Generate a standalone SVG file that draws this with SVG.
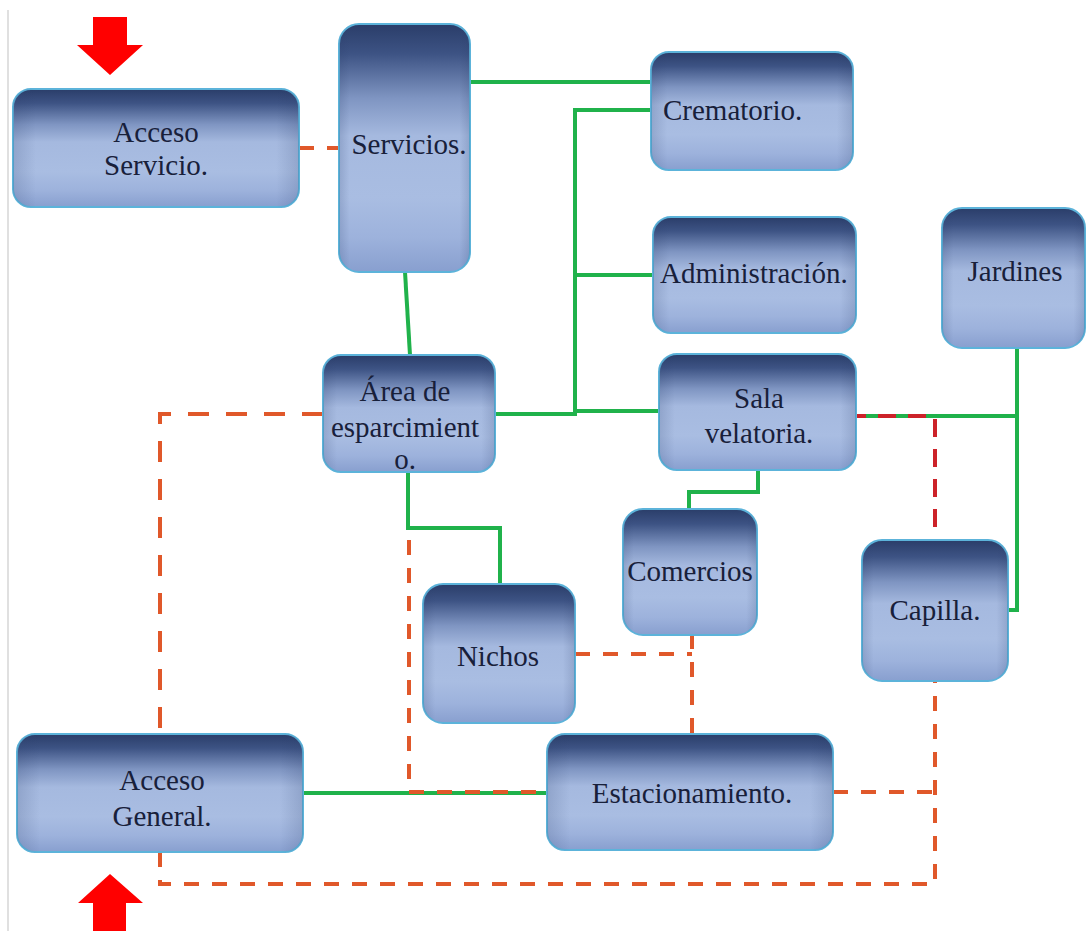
<svg xmlns="http://www.w3.org/2000/svg" width="1086" height="931" viewBox="0 0 1086 931">
<defs>
<linearGradient id="fill" x1="0" y1="0" x2="0" y2="1">
<stop offset="0" stop-color="#2a3d69"/>
<stop offset="0.12" stop-color="#3d5384"/>
<stop offset="0.3" stop-color="#7f95c2"/>
<stop offset="0.45" stop-color="#a5b9df"/>
<stop offset="0.7" stop-color="#a9bde2"/>
<stop offset="0.86" stop-color="#9db2dc"/>
<stop offset="1" stop-color="#889fcf"/>
</linearGradient>
<linearGradient id="side" x1="0" y1="0" x2="1" y2="0">
<stop offset="0" stop-color="#2a3d69" stop-opacity="0.18"/>
<stop offset="0.08" stop-color="#2a3d69" stop-opacity="0"/>
<stop offset="0.92" stop-color="#2a3d69" stop-opacity="0"/>
<stop offset="1" stop-color="#2a3d69" stop-opacity="0.18"/>
</linearGradient>
<style>
.box{fill:url(#fill);stroke:#5cb3da;stroke-width:2}
.sh{fill:url(#side);stroke:none}
.t{font-family:"Liberation Serif","Times New Roman",serif;font-size:29px;fill:#18203a;text-anchor:middle}
.ts{text-anchor:start}
.g{fill:none;stroke:#20b24b;stroke-width:4}
.o{fill:none;stroke:#e0582a;stroke-width:4;stroke-dasharray:15 13}
.o2{fill:none;stroke:#e0582a;stroke-width:4;stroke-dasharray:21 17}
.r{fill:none;stroke:#cc2229;stroke-width:4;stroke-dasharray:18 12}
.arrow{fill:#ff0000}
</style>
</defs>
<rect width="1086" height="931" fill="#ffffff"/>
<line x1="8" y1="10" x2="8" y2="931" stroke="#d6d6d6" stroke-width="1.5"/>

<g id="connectors">
<path class="g" d="M470,82 H651"/>
<path class="g" d="M405,272 L410,355"/>
<path class="g" d="M495,414 H577"/>
<path class="g" d="M575,411 H660"/>
<path class="g" d="M575,414 V110 H651"/>
<path class="g" d="M575,275 H653"/>
<path class="g" d="M408,472 V528 H500 V584"/>
<path class="g" d="M758,470 V492 H689 V509"/>
<path class="g" d="M848,416 H1017"/>
<path class="g" d="M1017,348 V610 H1008"/>
<path class="g" d="M303,793 H547"/>
<path class="o" d="M299,148 H339"/>
<path class="o2" d="M323,414 H160 V734"/>
<path class="o" d="M160,852 V884 H935 V681"/>
<path class="o" d="M833,792 H935"/>
<path class="o" d="M575,654 H692"/>
<path class="o" d="M692,634 V734"/>
<path class="o" d="M409,540 V792 H547"/>
<path class="r" d="M848,416 H935 V540"/>
</g>

<g id="arrow-top"><polygon class="arrow" points="93,17 127,17 127,45 143,45 110,75 77,45 93,45"/></g>
<g id="arrow-bottom"><polygon class="arrow" points="110,874 143,903 126,903 126,931 93,931 93,903 78,903"/></g>

<g id="acceso-servicio">
<rect class="box" x="13" y="89" width="286" height="118" rx="18"/>
<rect class="sh" x="13" y="89" width="286" height="118" rx="18"/>
<text class="t" x="156" y="142">Acceso</text>
<text class="t" x="156" y="175">Servicio.</text>
</g>
<g id="servicios">
<rect class="box" x="339" y="24" width="131" height="248" rx="20"/>
<rect class="sh" x="339" y="24" width="131" height="248" rx="20"/>
<text class="t" x="409" y="154">Servicios.</text>
</g>
<g id="crematorio">
<rect class="box" x="651" y="52" width="202" height="118" rx="18"/>
<rect class="sh" x="651" y="52" width="202" height="118" rx="18"/>
<text class="t ts" x="663" y="120">Crematorio.</text>
</g>
<g id="administracion">
<rect class="box" x="653" y="217" width="203" height="116" rx="18"/>
<rect class="sh" x="653" y="217" width="203" height="116" rx="18"/>
<text class="t ts" x="660" y="283">Administración.</text>
</g>
<g id="jardines">
<rect class="box" x="942" y="208" width="143" height="140" rx="20"/>
<rect class="sh" x="942" y="208" width="143" height="140" rx="20"/>
<text class="t" x="1015" y="281">Jardines</text>
</g>
<g id="area-esparcimiento">
<rect class="box" x="323" y="355" width="172" height="117" rx="18"/>
<rect class="sh" x="323" y="355" width="172" height="117" rx="18"/>
<text class="t" x="405" y="401">Área de</text>
<text class="t" x="405" y="437">esparcimient</text>
<text class="t" x="405" y="469">o.</text>
</g>
<g id="sala-velatoria">
<rect class="box" x="659" y="354" width="197" height="116" rx="18"/>
<rect class="sh" x="659" y="354" width="197" height="116" rx="18"/>
<text class="t" x="759" y="408">Sala</text>
<text class="t" x="759" y="443">velatoria.</text>
</g>
<g id="comercios">
<rect class="box" x="623" y="509" width="134" height="126" rx="20"/>
<rect class="sh" x="623" y="509" width="134" height="126" rx="20"/>
<text class="t" x="690" y="581">Comercios</text>
</g>
<g id="nichos">
<rect class="box" x="423" y="584" width="152" height="139" rx="20"/>
<rect class="sh" x="423" y="584" width="152" height="139" rx="20"/>
<text class="t" x="498" y="666">Nichos</text>
</g>
<g id="capilla">
<rect class="box" x="862" y="540" width="146" height="141" rx="20"/>
<rect class="sh" x="862" y="540" width="146" height="141" rx="20"/>
<text class="t" x="935" y="620">Capilla.</text>
</g>
<g id="estacionamiento">
<rect class="box" x="547" y="734" width="286" height="116" rx="18"/>
<rect class="sh" x="547" y="734" width="286" height="116" rx="18"/>
<text class="t" x="692" y="803">Estacionamiento.</text>
</g>
<g id="acceso-general">
<rect class="box" x="17" y="734" width="286" height="118" rx="18"/>
<rect class="sh" x="17" y="734" width="286" height="118" rx="18"/>
<text class="t" x="162" y="790">Acceso</text>
<text class="t" x="162" y="826">General.</text>
</g>
</svg>
